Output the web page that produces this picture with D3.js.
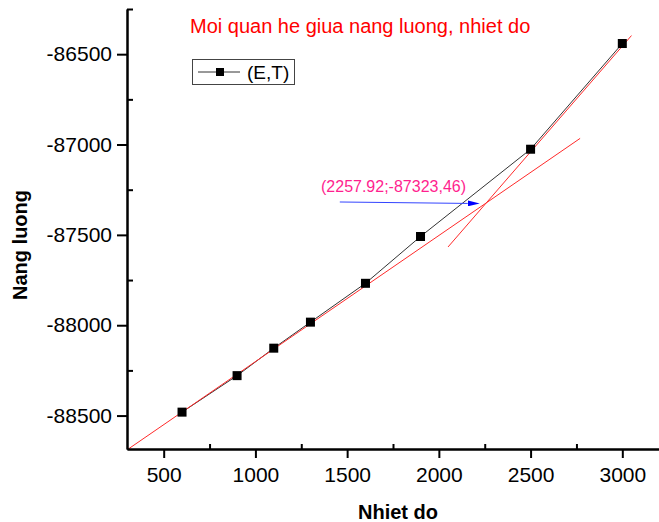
<!DOCTYPE html>
<html>
<head>
<meta charset="utf-8">
<script src="https://cdn.jsdelivr.net/npm/d3@7/dist/d3.min.js"></script>
<style>
  html, body { margin: 0; padding: 0; background: #fff; }
  svg { display: block; font-family: "Liberation Sans", Arial, sans-serif; }
</style>
</head>
<body>
<svg id="canvas" width="659" height="522"></svg>
<script>
// data
const temps = [600, 900, 1100, 1300, 1600, 1900, 2500, 3000]
const energies = [-88481, -88279, -88127, -87983, -87768, -87509, -87026, -86441]
// two fitted straight lines (end points)
const fitLow = [[300, -88690], [2770, -86966]]
const fitHigh = [[2050, -87567], [3050, -86397]]
const crossLabel = "(2257.92;-87323,46)"
const arrowFrom = [1460, -87318]
const arrowTo = [2223, -87326]
const xTicks = [500, 1000, 1500, 2000, 2500, 3000]
const xMinor = [750, 1250, 1750, 2250, 2750]
const yTicks = [-86500, -87000, -87500, -88000, -88500]
const yMinor = [-86250, -86750, -87250, -87750, -88250]

const svg = d3.select("#canvas")
const x = d3.scaleLinear().domain([300, 3200]).range([127, 659])
const y = d3.scaleLinear().domain([-88685, -86250]).range([449, 9])

svg.append("defs").append("clipPath").attr("id", "plot")
  .append("rect").attr("x", 127).attr("y", 0).attr("width", 532).attr("height", 449)

const pts = temps.map((t, i) => [t, energies[i]])
const line = d3.line().x(d => x(d[0])).y(d => y(d[1]))

const plot = svg.append("g").attr("clip-path", "url(#plot)")

plot.append("path")
  .attr("d", line(pts))
  .attr("fill", "none")
  .attr("stroke", "#333")
  .attr("stroke-width", 1)

plot.selectAll("path.fit")
  .data([fitLow, fitHigh])
  .enter().append("path")
  .attr("class", "fit")
  .attr("d", line)
  .attr("fill", "none")
  .attr("stroke", "#ff2a2a")
  .attr("stroke-width", 1)

plot.selectAll("rect.pt")
  .data(pts)
  .enter().append("rect")
  .attr("class", "pt")
  .attr("x", d => x(d[0]) - 4.5)
  .attr("y", d => y(d[1]) - 4.5)
  .attr("width", 9)
  .attr("height", 9)
  .attr("fill", "#000")

// arrow
svg.append("defs").append("marker")
  .attr("id", "head")
  .attr("viewBox", "0 0 12 6")
  .attr("refX", 0).attr("refY", 3)
  .attr("markerWidth", 12).attr("markerHeight", 6)
  .attr("markerUnits", "userSpaceOnUse")
  .attr("orient", "auto")
  .append("path").attr("d", "M0,0L12,3L0,6Z").attr("fill", "#0000ff")

svg.append("line")
  .attr("x1", x(arrowFrom[0])).attr("y1", y(arrowFrom[1]))
  .attr("x2", x(arrowTo[0]) - 12).attr("y2", y(arrowTo[1]))
  .attr("stroke", "#3344ff")
  .attr("stroke-width", 1)
  .attr("marker-end", "url(#head)")

svg.append("text")
  .attr("x", 321)
  .attr("y", 192)
  .attr("font-size", 16)
  .attr("fill", "#ff1f8f")
  .text(crossLabel)

// axes
const fmt = d => String(d)
svg.append("g").attr("transform", "translate(0,449)")
  .call(d3.axisBottom(x).tickValues(xTicks).tickFormat(fmt).tickSize(9).tickPadding(9).tickSizeOuter(0))
svg.append("g").attr("transform", "translate(0,449)")
  .call(d3.axisBottom(x).tickValues(xMinor).tickSize(-5).tickFormat("").tickSizeOuter(0))
svg.append("g").attr("transform", "translate(127,0)")
  .call(d3.axisLeft(y).tickValues(yTicks).tickFormat(fmt).tickSize(10).tickPadding(5).tickSizeOuter(0))
svg.append("g").attr("transform", "translate(127,0)")
  .call(d3.axisLeft(y).tickValues(yMinor).tickSize(-6).tickFormat("").tickSizeOuter(0))

svg.selectAll(".domain, .tick line")
  .attr("stroke", "#000")
  .attr("stroke-width", 2)
svg.selectAll(".tick text")
  .attr("font-family", "'Liberation Sans', Arial, sans-serif")
  .attr("font-size", 21)
  .attr("fill", "#000")

// axis titles
svg.append("text")
  .attr("x", 398).attr("y", 519)
  .attr("text-anchor", "middle")
  .attr("font-size", 20).attr("font-weight", "bold")
  .text("Nhiet do")
svg.append("text")
  .attr("transform", "translate(27,245) rotate(-90)")
  .attr("text-anchor", "middle")
  .attr("font-size", 20).attr("font-weight", "bold")
  .text("Nang luong")

// title
svg.append("text")
  .attr("x", 190).attr("y", 33)
  .attr("font-size", 20)
  .attr("fill", "#ff0000")
  .text("Moi quan he giua nang luong, nhiet do")

// legend
const lg = svg.append("g")
lg.append("rect")
  .attr("x", 192.5).attr("y", 59.5).attr("width", 102).attr("height", 25)
  .attr("fill", "#fff").attr("stroke", "#444").attr("stroke-width", 1)
lg.append("line")
  .attr("x1", 198).attr("x2", 240).attr("y1", 72).attr("y2", 72)
  .attr("stroke", "#333").attr("stroke-width", 1)
lg.append("rect")
  .attr("x", 216).attr("y", 68).attr("width", 8).attr("height", 8).attr("fill", "#000")
lg.append("text")
  .attr("x", 247).attr("y", 78.5)
  .attr("font-size", 19)
  .text("(E,T)")
</script>
</body>
</html>
